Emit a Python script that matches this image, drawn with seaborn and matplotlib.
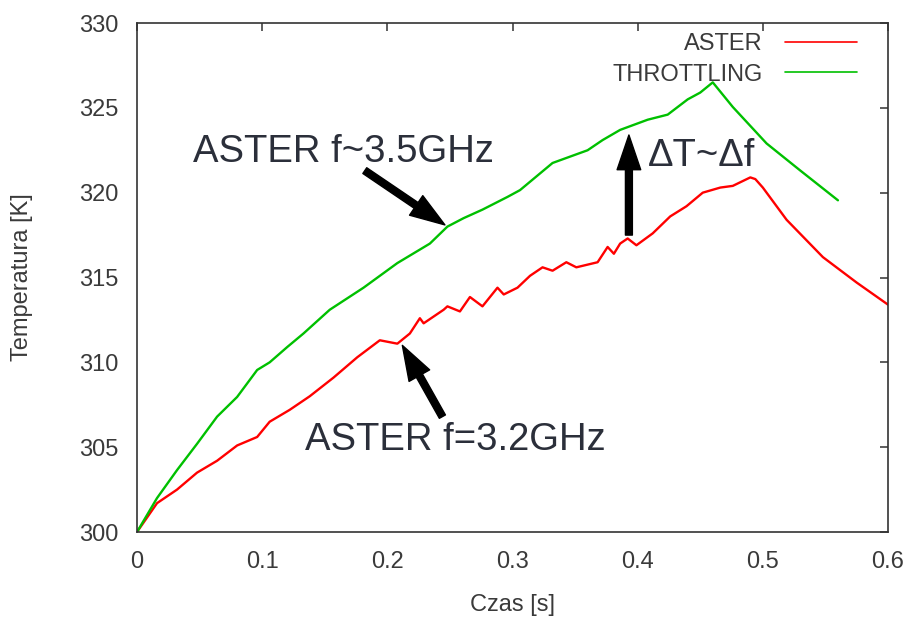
import matplotlib
matplotlib.use("Agg")
import matplotlib.pyplot as plt
import seaborn as sns
import pandas as pd

# ---- data ----
throttling_x = [0, 0.016, 0.032, 0.048, 0.064, 0.08, 0.096, 0.106, 0.12, 0.133,
                0.154, 0.181, 0.208, 0.234, 0.248, 0.261, 0.276, 0.296, 0.306,
                0.332, 0.36, 0.372, 0.386, 0.408, 0.424, 0.44, 0.45, 0.46,
                0.476, 0.503, 0.53, 0.56]
throttling_y = [300.0, 302.0, 303.65, 305.2, 306.8, 307.96, 309.55, 310.0, 310.9, 311.7,
                313.1, 314.4, 315.85, 317.0, 318.0, 318.5, 319.0, 319.75, 320.15,
                321.75, 322.5, 323.1, 323.7, 324.3, 324.6, 325.5, 325.9, 326.5,
                325.05, 322.9, 321.3, 319.55]

aster_x = [0, 0.016, 0.032, 0.048, 0.064, 0.08, 0.096, 0.106, 0.122, 0.138, 0.157,
           0.176, 0.194, 0.208, 0.218, 0.226, 0.229, 0.245, 0.248, 0.258, 0.266,
           0.276, 0.288, 0.293, 0.304, 0.314, 0.324, 0.332, 0.343, 0.351, 0.368,
           0.376, 0.381, 0.386, 0.392, 0.399, 0.412, 0.426, 0.439, 0.452, 0.466,
           0.476, 0.49, 0.494, 0.5, 0.519, 0.548, 0.575, 0.6]
aster_y = [300.0, 301.7, 302.5, 303.5, 304.2, 305.1, 305.6, 306.5, 307.2, 308.0, 309.1,
           310.3, 311.3, 311.1, 311.7, 312.6, 312.3, 313.1, 313.3, 313.0, 313.85,
           313.3, 314.4, 314.0, 314.4, 315.1, 315.6, 315.4, 315.9, 315.6, 315.9,
           316.8, 316.4, 317.0, 317.3, 316.9, 317.6, 318.6, 319.2, 320.0, 320.3,
           320.4, 320.9, 320.8, 320.3, 318.4, 316.2, 314.7, 313.4]

series_names = ["ASTER", "THROTTLING"]
series_colors = ["#ff0000", "#00c000"]

x_ticks = [0, 0.1, 0.2, 0.3, 0.4, 0.5, 0.6]
x_tick_labels = ["0", "0.1", "0.2", "0.3", "0.4", "0.5", "0.6"]
y_ticks = [300, 305, 310, 315, 320, 325, 330]

ann_texts = ["ASTER f~3.5GHz", "ASTER f=3.2GHz", "ΔT~Δf"]
ann_text_pos = [(0.165, 322.4), (0.254, 305.4), (0.451, 322.15)]
ann_arrow_tail = [(0.182, 321.3), (0.244, 306.8), (0.393, 317.5)]
ann_arrow_head = [(0.246, 318.1), (0.212, 311.0), (0.393, 323.4)]

# ---- build frame ----
df = pd.concat([
    pd.DataFrame({"x": aster_x, "y": aster_y, "series": "ASTER"}),
    pd.DataFrame({"x": throttling_x, "y": throttling_y, "series": "THROTTLING"}),
], ignore_index=True)

sns.set_theme(style="white")
plt.rcParams["font.family"] = ["Liberation Sans", "DejaVu Sans"]

fig = plt.figure(figsize=(9.06, 6.22), dpi=100)
ax = fig.add_axes([137 / 906, 1 - 532 / 622, 751 / 906, 509 / 622])

sns.lineplot(data=df, x="x", y="y", hue="series", hue_order=series_names,
             palette=series_colors, sort=False, estimator=None, units="series",
             linewidth=1.7, ax=ax, legend=False)

ax.set_xlim(0, 0.6)
ax.set_ylim(300, 330)
ax.set_xticks(x_ticks)
ax.set_xticklabels(x_tick_labels)
ax.set_yticks(y_ticks)

txtcol = "#3a3a3a"
for s in ax.spines.values():
    s.set_color("#333333")
    s.set_linewidth(1.2)
ax.tick_params(direction="in", length=6, width=1.1, color="#333333",
               top=True, right=True, labelsize=17, labelcolor=txtcol)
ax.tick_params(axis="y", pad=13)
ax.tick_params(axis="x", pad=14)

ax.set_xlabel("Czas [s]", fontsize=17, color=txtcol)
ax.set_ylabel("Temperatura [K]", fontsize=17, color=txtcol)
ax.xaxis.set_label_coords(0.5, (532 - 605) / 509)
ax.xaxis.label.set_verticalalignment("center")
ax.yaxis.set_label_coords((22 - 137) / 751, 0.5)
ax.yaxis.label.set_verticalalignment("center")

# legend (text left of line, right-aligned)
from matplotlib.lines import Line2D
handles = [Line2D([], [], color=c, lw=1.2) for c in series_colors]
leg = ax.legend(handles, series_names, loc="upper right",
                bbox_to_anchor=((857 - 137) / 751, 1 - (33 - 23) / 509),
                frameon=False, markerfirst=False, fontsize=17,
                handlelength=3.05, handletextpad=0.95, labelspacing=0.37,
                borderpad=0, borderaxespad=0)
for t in leg.get_texts():
    t.set_color(txtcol)

# annotations
for txt, pos in zip(ann_texts, ann_text_pos):
    ax.text(pos[0], pos[1], txt, fontsize=27.5, color="#2b2f3a",
            ha="center", va="center")
for tail, head in zip(ann_arrow_tail, ann_arrow_head):
    ax.annotate("", xy=head, xytext=tail,
                arrowprops=dict(facecolor="black", edgecolor="black",
                                width=5, headwidth=17, headlength=25, shrink=0))

fig.savefig("out.png", dpi=100)
